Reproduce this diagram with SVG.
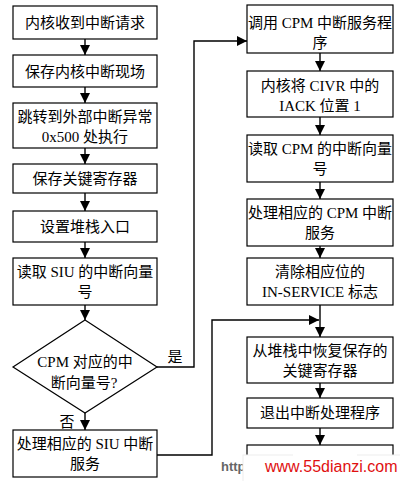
<svg xmlns="http://www.w3.org/2000/svg" width="400" height="481" viewBox="0 0 400 481">
<defs>
<marker id="ah" markerUnits="userSpaceOnUse" markerWidth="11" markerHeight="11" refX="10" refY="5" orient="auto">
<path d="M0,0 L10,5 L0,10 z" fill="#000"/>
</marker>
<style>
.box{fill:#fff;stroke:#000;stroke-width:1.2}
.t{font-family:"Liberation Serif","Noto Sans CJK SC",serif;font-size:15px;fill:#000;text-anchor:middle}
.c{fill:none;stroke:#000;stroke-width:1.4;marker-end:url(#ah)}
.l{fill:none;stroke:#333;stroke-width:1.4}
</style>
</defs>
<rect width="400" height="481" fill="#fff"/>

<g id="connectors">
<line class="c" x1="85" y1="39" x2="85" y2="55"/>
<line class="c" x1="85" y1="87" x2="85" y2="103"/>
<line class="c" x1="85" y1="148" x2="85" y2="164"/>
<line class="c" x1="85" y1="193" x2="85" y2="211"/>
<line class="c" x1="85" y1="242" x2="85" y2="258"/>
<line class="c" x1="85" y1="305" x2="85" y2="320"/>
<line class="c" x1="85" y1="413" x2="85" y2="430"/>
<path class="c" d="M157,367 H194 V41 H247"/>
<line class="c" x1="320" y1="53" x2="320" y2="71"/>
<line class="c" x1="320" y1="117" x2="320" y2="135"/>
<line class="c" x1="320" y1="182" x2="320" y2="199"/>
<line class="c" x1="320" y1="246" x2="320" y2="258"/>
<line class="c" x1="320" y1="305" x2="320" y2="337"/>
<path class="c" d="M157,455 H212 V320 H319"/>
<line class="c" x1="320" y1="383" x2="320" y2="398"/>
<line class="c" x1="320" y1="428" x2="320" y2="445"/>
<text class="t" x="175" y="362">是</text>
<text class="t" x="67" y="427">否</text>
</g>

<g id="n1"><rect class="box" x="13" y="6" width="144" height="33"/><text class="t" x="85" y="28">内核收到中断请求</text></g>
<g id="n2"><rect class="box" x="13" y="55" width="144" height="32"/><text class="t" x="85" y="77">保存内核中断现场</text></g>
<g id="n3"><rect class="box" x="13" y="103" width="144" height="45"/><text class="t" x="85" y="122">跳转到外部中断异常</text><text class="t" x="85" y="142">0x500 处执行</text></g>
<g id="n4"><rect class="box" x="13" y="164" width="144" height="29"/><text class="t" x="85" y="184">保存关键寄存器</text></g>
<g id="n5"><rect class="box" x="13" y="211" width="144" height="31"/><text class="t" x="85" y="232">设置堆栈入口</text></g>
<g id="n6"><rect class="box" x="13" y="258" width="144" height="47"/><text class="t" x="85" y="277">读取 SIU 的中断向量</text><text class="t" x="85" y="297">号</text></g>
<g id="n7"><path class="box" d="M85,320 L157,367 L85,413 L13,367 z"/><text class="t" x="85" y="367">CPM 对应的中</text><text class="t" x="84" y="388">断向量号?</text></g>
<g id="n8"><rect class="box" x="13" y="430" width="144" height="47"/><text class="t" x="85" y="449">处理相应的 SIU 中断</text><text class="t" x="85" y="469">服务</text></g>

<g id="r1"><rect class="box" x="247" y="5" width="146" height="48"/><text class="t" x="320" y="28">调用 CPM 中断服务程</text><text class="t" x="320" y="48">序</text></g>
<g id="r2"><rect class="box" x="247" y="71" width="146" height="46"/><text class="t" x="320" y="91">内核将 CIVR 中的</text><text class="t" x="320" y="111">IACK 位置 1</text></g>
<g id="r3"><rect class="box" x="247" y="135" width="146" height="47"/><text class="t" x="320" y="154">读取 CPM 的中断向量</text><text class="t" x="320" y="174">号</text></g>
<g id="r4"><rect class="box" x="247" y="199" width="146" height="47"/><text class="t" x="320" y="218">处理相应的 CPM 中断</text><text class="t" x="320" y="238">服务</text></g>
<g id="r5"><rect class="box" x="247" y="258" width="146" height="47"/><text class="t" x="320" y="277">清除相应位的</text><text class="t" x="320" y="297">IN-SERVICE 标志</text></g>
<g id="r6"><rect class="box" x="247" y="337" width="146" height="46"/><text class="t" x="320" y="356">从堆栈中恢复保存的</text><text class="t" x="320" y="376">关键寄存器</text></g>
<g id="r7"><rect class="box" x="247" y="398" width="146" height="30"/><text class="t" x="320" y="418">退出中断处理程序</text></g>
<g id="r8"><rect class="box" x="247" y="445" width="146" height="50"/></g>

<g id="watermark">
<text x="221" y="471" font-family="Liberation Sans, sans-serif" font-size="13" font-weight="bold" fill="#666">http</text>
<rect x="243" y="455" width="160" height="30" fill="#fff" stroke="#eee"/>
<rect x="293" y="446" width="64" height="12" fill="#fff"/>
<text x="265" y="472" font-family="Liberation Sans, sans-serif" font-size="16" fill="#e01010">www.55dianzi.com</text>
</g>
</svg>
